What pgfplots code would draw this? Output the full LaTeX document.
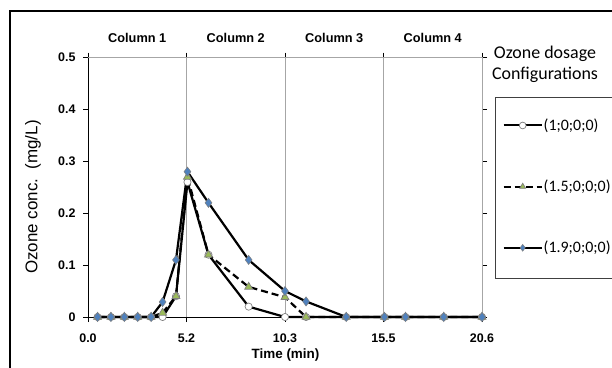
\documentclass[border=0pt]{standalone}
\usepackage{fontspec}
\setmainfont{Liberation Sans}
\newfontfamily\calibri{Carlito}
\usepackage{pgfplots}
\pgfplotsset{compat=1.18}
\definecolor{blueM}{HTML}{4F81BD}
\definecolor{greenM}{HTML}{9BBB59}
\definecolor{edgeM}{HTML}{7F7F7F}
\begin{document}
\begin{tikzpicture}[x=1bp,y=1bp]
\path[use as bounding box] (0,0) rectangle (612,367);
\draw[line width=1.6bp] (10,-2) -- (10,356) -- (614,356);
\begin{axis}[
  scale only axis, width=394bp, height=259.5bp,
  at={(88bp,50bp)}, anchor=south west,
  xmin=0, xmax=20.6, ymin=0, ymax=0.5,
  axis line style={draw=none},
  xtick={0,5.15,10.3,15.45,20.6},
  xticklabels={0.0,5.2,10.3,15.5,20.6},
  ytick={0,0.1,0.2,0.3,0.4,0.5},
  yticklabels={0,0.1,0.2,0.3,0.4,0.5},
  xmajorgrids, grid style={black!35, line width=0.8bp},
  major tick length=5bp, tick align=outside,
  tick style={black, line width=0.8bp},
  ticklabel style={font=\fontsize{12.5}{14}\selectfont\bfseries},
  xticklabel style={yshift=-8bp},
  yticklabel style={xshift=-4bp},
  clip=false,
  legend style={draw=none, fill=none, at={(axis description cs:1.052,0.768)}, anchor=north west,
    row sep=46bp, inner sep=0pt, font=\calibri\fontsize{16}{18}\selectfont,
    nodes={inner sep=1bp}},
  legend cell align=left,
  legend image code/.code={\draw[#1, line width=2bp, mark repeat=2, mark phase=2, mark size=3.4bp] plot coordinates {(0bp,0bp) (19bp,0bp) (38bp,0bp)};},
]
% plot area box
\draw[black!35, line width=0.8bp] (rel axis cs:0,1) -- (rel axis cs:1,1) -- (rel axis cs:1,0);
\draw[black, line width=1bp] (rel axis cs:0,1) -- (rel axis cs:0,0) -- (rel axis cs:1,0);
% column labels
\node[font=\fontsize{12.8}{14}\selectfont\bfseries] at (axis cs:2.575,0.5) [yshift=20bp] {Column 1};
\node[font=\fontsize{12.8}{14}\selectfont\bfseries] at (axis cs:7.725,0.5) [yshift=20bp] {Column 2};
\node[font=\fontsize{12.8}{14}\selectfont\bfseries] at (axis cs:12.875,0.5) [yshift=20bp] {Column 3};
\node[font=\fontsize{12.8}{14}\selectfont\bfseries] at (axis cs:18.025,0.5) [yshift=20bp] {Column 4};
% series (1;0;0;0)
\addplot[black, line width=2.2bp, mark=*, mark size=3.6bp,
  mark options={fill=white, draw=edgeM, line width=0.7bp, solid}]
coordinates {(0.5,0) (1.2,0) (1.9,0) (2.6,0) (3.3,0) (3.9,0) (4.6,0.04) (5.2,0.26) (6.3,0.12) (8.4,0.02) (10.3,0) (11.4,0) (13.5,0) (15.5,0) (16.6,0) (18.6,0) (20.6,0)};
\addlegendentry{(1;0;0;0)}
% series (1.5;0;0;0)
\addplot[black, line width=2.2bp, dash pattern=on 7bp off 4bp, mark=triangle*, mark size=4.6bp,
  mark options={fill=greenM, draw=edgeM, line width=0.7bp, solid}]
coordinates {(0.5,0) (1.2,0) (1.9,0) (2.6,0) (3.3,0) (3.9,0.008) (4.6,0.04) (5.2,0.27) (6.3,0.12) (8.4,0.058) (10.3,0.038) (11.4,0) (13.5,0) (15.5,0) (16.6,0) (18.6,0) (20.6,0)};
\addlegendentry{(1.5;0;0;0)}
% series (1.9;0;0;0)
\addplot[black, line width=2.2bp, mark=diamond*, mark size=4.6bp,
  mark options={fill=blueM, draw=edgeM, line width=0.5bp, solid}]
coordinates {(0.5,0) (1.2,0) (1.9,0) (2.6,0) (3.3,0) (3.9,0.029) (4.6,0.11) (5.2,0.28) (6.3,0.22) (8.4,0.11) (10.3,0.05) (11.4,0.03) (13.5,0) (15.5,0) (16.6,0) (18.6,0) (20.6,0)};
\addlegendentry{(1.9;0;0;0)}
\end{axis}
% axis titles
\node[font=\fontsize{13.5}{15}\selectfont\bfseries] at (285.5,12) {Time (min)};
\node[font=\fontsize{17}{19}\selectfont, rotate=90] at (33,170) {Ozone conc.\ \ (mg/L)};
% legend title and frame
\node[font=\calibri\fontsize{18}{21}\selectfont, align=center] at (545,303) {Ozone dosage\\Configurations};
\draw[black!75, line width=1bp] (495,89) -- (495,270) -- (614,270);
\draw[black!75, line width=1bp] (495,89) -- (614,89);
\end{tikzpicture}
\end{document}
